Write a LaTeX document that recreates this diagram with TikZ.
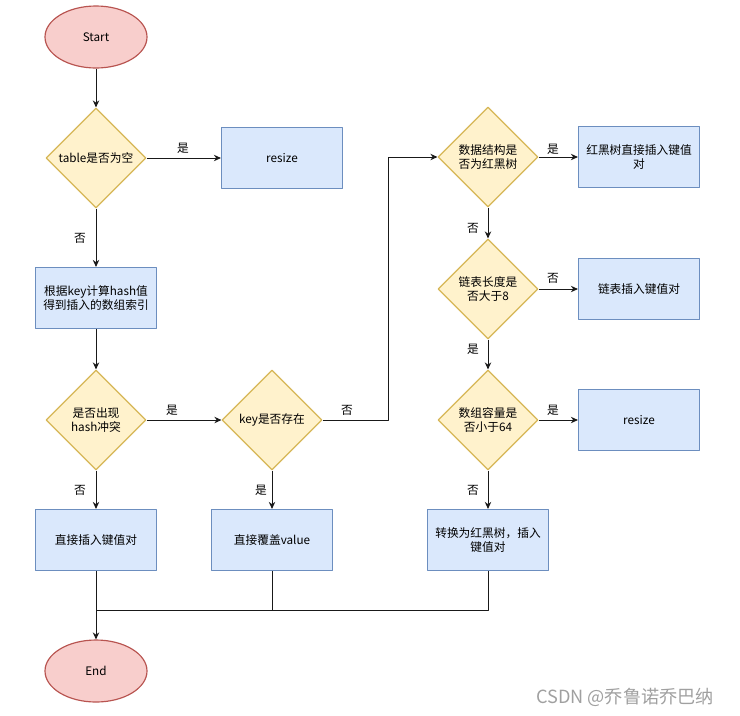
\documentclass[tikz,border=0pt]{standalone}
\usepackage{fontspec}
\setmainfont{Noto Sans CJK SC}
\usetikzlibrary{arrows.meta,shapes.geometric}
\definecolor{termfill}{RGB}{248,206,204}
\definecolor{termline}{RGB}{184,84,80}
\definecolor{askfill}{RGB}{255,242,204}
\definecolor{askline}{RGB}{214,182,86}
\definecolor{stepfill}{RGB}{218,232,252}
\definecolor{stepline}{RGB}{108,142,191}
\definecolor{wirecol}{RGB}{25,25,25}
\definecolor{markgray}{RGB}{160,160,160}

\begin{document}
\begin{tikzpicture}[x=0.03cm, y=-0.03cm, font=\fontsize{10}{12.5}\selectfont,
  >={Stealth[length=6pt,width=5.5pt]}, line join=round,
  term/.style={ellipse, draw=termline, fill=termfill, line width=1pt,
    minimum width=3.06cm, minimum height=1.86cm, inner sep=0pt},
  ask/.style={diamond, aspect=1, draw=askline, fill=askfill, line width=1pt,
    minimum width=3cm, minimum height=3cm, inner sep=0pt, align=center},
  stepbox/.style={rectangle, draw=stepline, fill=stepfill, line width=1pt,
    minimum width=3.63cm, minimum height=1.83cm, inner sep=2pt, align=center},
  wire/.style={draw=wirecol, line width=0.8pt},
  yesno/.style={inner sep=1pt}]

\useasboundingbox (0,0) rectangle (740,715);

% ---------- left column ----------
\node[term] (start) at (96,37) {Start};
\node[ask] (empty) at (96,158) {table是否为空};
\node[stepbox] (resizeA) at (282,158) {resize};
\node[stepbox] (index) at (96,298) {根据key计算hash值\\得到插入的数组索引};
\node[ask] (clash) at (96,420) {是否出现\\hash冲突};
\node[ask] (keyq) at (272,420) {key是否存在};
\node[stepbox] (insert) at (96,540) {直接插入键值对};
\node[stepbox] (cover) at (272,540) {直接覆盖value};
\node[term] (stop) at (96,671) {End};

% ---------- right column ----------
\node[ask] (treeq) at (488,157) {数据结构是\\否为红黑树};
\node[stepbox] (treeins) at (639,157) {红黑树直接插入键值\\对};
\node[ask] (lenq) at (488,289) {链表长度是\\否大于8};
\node[stepbox] (listins) at (639,289) {链表插入键值对};
\node[ask] (capq) at (488,420) {数组容量是\\否小于64};
\node[stepbox] (resizeB) at (639,420) {resize};
\node[stepbox] (convert) at (488,540) {转换为红黑树，插入\\键值对};

% ---------- connectors ----------
\coordinate (bend) at (388,420);
\coordinate (join) at (96,610);

\draw[wire,->] (start) -- (empty);
\draw[wire,->] (empty) -- (resizeA);
\draw[wire,->] (empty) -- (index);
\draw[wire,->] (index) -- (clash);
\draw[wire,->] (clash) -- (keyq);
\draw[wire,->] (clash) -- (insert);
\draw[wire,->] (keyq) -- (cover);
\draw[wire,->] (keyq.east) -- (bend) |- (treeq.west);
\draw[wire,->] (treeq) -- (treeins);
\draw[wire,->] (treeq) -- (lenq);
\draw[wire,->] (lenq) -- (listins);
\draw[wire,->] (lenq) -- (capq);
\draw[wire,->] (capq) -- (resizeB);
\draw[wire,->] (capq) -- (convert);
\draw[wire,->] (insert) -- (stop);
\draw[wire] (cover.south) |- (join);
\draw[wire] (convert.south) |- (join);

% ---------- yes / no ----------
\node[yesno] (y1) at (183,148) {是};
\node[yesno] (n1) at (80,238) {否};
\node[yesno] (y2) at (172,410) {是};
\node[yesno] (n2) at (80,490) {否};
\node[yesno] (n3) at (347,410) {否};
\node[yesno] (y3) at (261,490) {是};
\node[yesno] (y4) at (553,149) {是};
\node[yesno] (n4) at (473,228) {否};
\node[yesno] (n5) at (553,278) {否};
\node[yesno] (y5) at (473,349) {是};
\node[yesno] (y6) at (553,410) {是};
\node[yesno] (n6) at (473,490) {否};

\node[anchor=west, text=markgray, font=\fontsize{15.5}{18}\selectfont] (mark) at (532,697) {CSDN @乔鲁诺乔巴纳};

\end{tikzpicture}
\end{document}
